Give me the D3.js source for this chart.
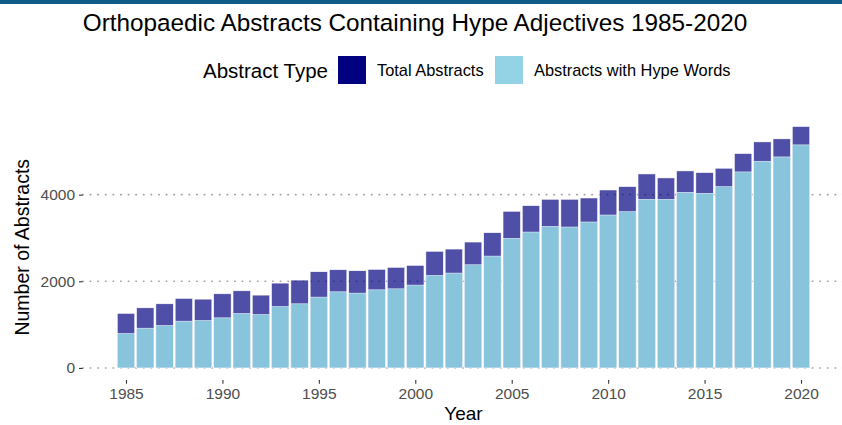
<!DOCTYPE html>
<html>
<head>
<meta charset="utf-8">
<script src="https://cdn.jsdelivr.net/npm/d3@7"></script>
<style>
  body { margin: 0; background: #fff; }
  svg text { font-family: "Liberation Sans", Arial, Helvetica, sans-serif; }
</style>
</head>
<body>
<div id="chart"></div>
<script>
const years = d3.range(1985, 2021);
const totalAbstracts = [
  1258, 1387, 1480, 1604, 1588, 1711, 1780, 1681, 1958, 2028,
  2220, 2266, 2243, 2275, 2321, 2367, 2691, 2744, 2906, 3121,
  3616, 3745, 3893, 3893, 3923, 4108, 4185, 4478, 4386, 4548,
  4508, 4610, 4948, 5218, 5288, 5572
];
const hypeAbstracts = [
  795, 918, 980, 1080, 1095, 1156, 1258, 1234, 1419, 1480,
  1635, 1757, 1727, 1803, 1826, 1912, 2136, 2190, 2381, 2582,
  2992, 3137, 3269, 3253, 3369, 3530, 3607, 3893, 3893, 4055,
  4032, 4185, 4525, 4772, 4871, 5149
];
const yTicks = [0, 2000, 4000];
const xTicks = [1985, 1990, 1995, 2000, 2005, 2010, 2015, 2020];
const legendLabels = ["Total Abstracts", "Abstracts with Hype Words"];

function drawChart({
  selector = "#chart",
  width = 842,
  height = 425
} = {}) {
  const data = years.map((yr, i) => ({
    year: yr,
    total: totalAbstracts[i],
    hype: hypeAbstracts[i]
  }));

  const svg = d3.select(selector).append("svg")
    .attr("width", width)
    .attr("height", height);

  // band across the top
  svg.append("rect")
    .attr("x", 0).attr("y", 0)
    .attr("width", width).attr("height", 4)
    .attr("fill", "#0f5a87");

  // panel edges (ggplot style 5% expansion)
  const panel = { left: 82.7, right: 844.3, top: 114.5, bottom: 380 };
  const xMin = d3.min(years) - 0.45, xMax = d3.max(years) + 0.45;
  const xPad = (xMax - xMin) * 0.05;
  const x = d3.scaleLinear()
    .domain([xMin - xPad, xMax + xPad])
    .range([panel.left, panel.right]);

  const yMax = d3.max(totalAbstracts);
  const y = d3.scaleLinear()
    .domain([-yMax * 0.05, yMax * 1.05])
    .range([panel.bottom, panel.top]);

  // dotted horizontal grid
  svg.append("g")
    .selectAll("line")
    .data(yTicks)
    .enter()
    .append("line")
    .attr("x1", panel.left)
    .attr("x2", panel.right)
    .attr("y1", d => y(d))
    .attr("y2", d => y(d))
    .attr("stroke", "#a0a0a0")
    .attr("stroke-width", 1.6)
    .attr("stroke-linecap", "round")
    .attr("stroke-dasharray", "0.5,7.1");

  const half = 0.45;

  // total bars (semi transparent navy)
  svg.append("g")
    .selectAll("rect")
    .data(data)
    .enter()
    .append("rect")
    .attr("x", d => x(d.year - half))
    .attr("width", d => x(d.year + half) - x(d.year - half))
    .attr("y", d => y(d.total))
    .attr("height", d => y(0) - y(d.total))
    .attr("fill", "#000080")
    .attr("fill-opacity", 0.69)
    .attr("stroke", "#fff")
    .attr("stroke-width", 0.5);

  // hype bars on top
  svg.append("g")
    .selectAll("rect")
    .data(data)
    .enter()
    .append("rect")
    .attr("x", d => x(d.year - half))
    .attr("width", d => x(d.year + half) - x(d.year - half))
    .attr("y", d => y(d.hype))
    .attr("height", d => y(0) - y(d.hype))
    .attr("fill", "#89c4dd")
    .attr("stroke", "#fff")
    .attr("stroke-width", 0.5);

  // axes
  const xAxis = svg.append("g")
    .attr("transform", `translate(0,${panel.bottom})`)
    .call(d3.axisBottom(x).tickValues(xTicks).tickFormat(d3.format("d"))
      .tickSize(3.7).tickPadding(4));
  const yAxis = svg.append("g")
    .attr("transform", `translate(${panel.left},0)`)
    .call(d3.axisLeft(y).tickValues(yTicks).tickFormat(d3.format("d"))
      .tickSize(3.7).tickPadding(4));

  [xAxis, yAxis].forEach(ax => {
    ax.select(".domain").remove();
    ax.selectAll(".tick line").attr("stroke", "#333").attr("stroke-width", 1.1);
    ax.selectAll(".tick text")
      .attr("fill", "#4d4d4d")
      .attr("font-size", 15.5);
  });

  // axis titles
  svg.append("text")
    .attr("x", (panel.left + panel.right) / 2)
    .attr("y", 420)
    .attr("text-anchor", "middle")
    .attr("font-size", 19)
    .attr("fill", "#000")
    .text("Year");

  svg.append("text")
    .attr("transform", `translate(29,${(panel.top + panel.bottom) / 2}) rotate(-90)`)
    .attr("text-anchor", "middle")
    .attr("font-size", 19.5)
    .attr("fill", "#000")
    .text("Number of Abstracts");

  // title
  svg.append("text")
    .attr("x", 415)
    .attr("y", 31)
    .attr("text-anchor", "middle")
    .attr("font-size", 24.3)
    .attr("fill", "#000")
    .text("Orthopaedic Abstracts Containing Hype Adjectives 1985-2020");

  // --- legend ---
  const legend = svg.append("g").attr("class", "legend");
  legend.append("text")
    .attr("x", 203)
    .attr("y", 77.5)
    .attr("font-size", 20.5)
    .attr("fill", "#000")
    .text("Abstract Type");

  const legendItems = [
    { label: legendLabels[0], color: "#000080", x: 338 },
    { label: legendLabels[1], color: "#94d3e5", x: 495 }
  ];
  const item = legend.selectAll(".legend-item")
    .data(legendItems)
    .enter()
    .append("g")
    .attr("class", "legend-item")
    .attr("transform", d => `translate(${d.x},56)`);

  item.append("rect")
    .attr("width", 28)
    .attr("height", 28)
    .attr("fill", d => d.color);

  item.append("text")
    .attr("x", 39)
    .attr("y", 20)
    .attr("font-size", 16.4)
    .attr("fill", "#000")
    .text(d => d.label);
}

drawChart();
</script>
</body>
</html>
